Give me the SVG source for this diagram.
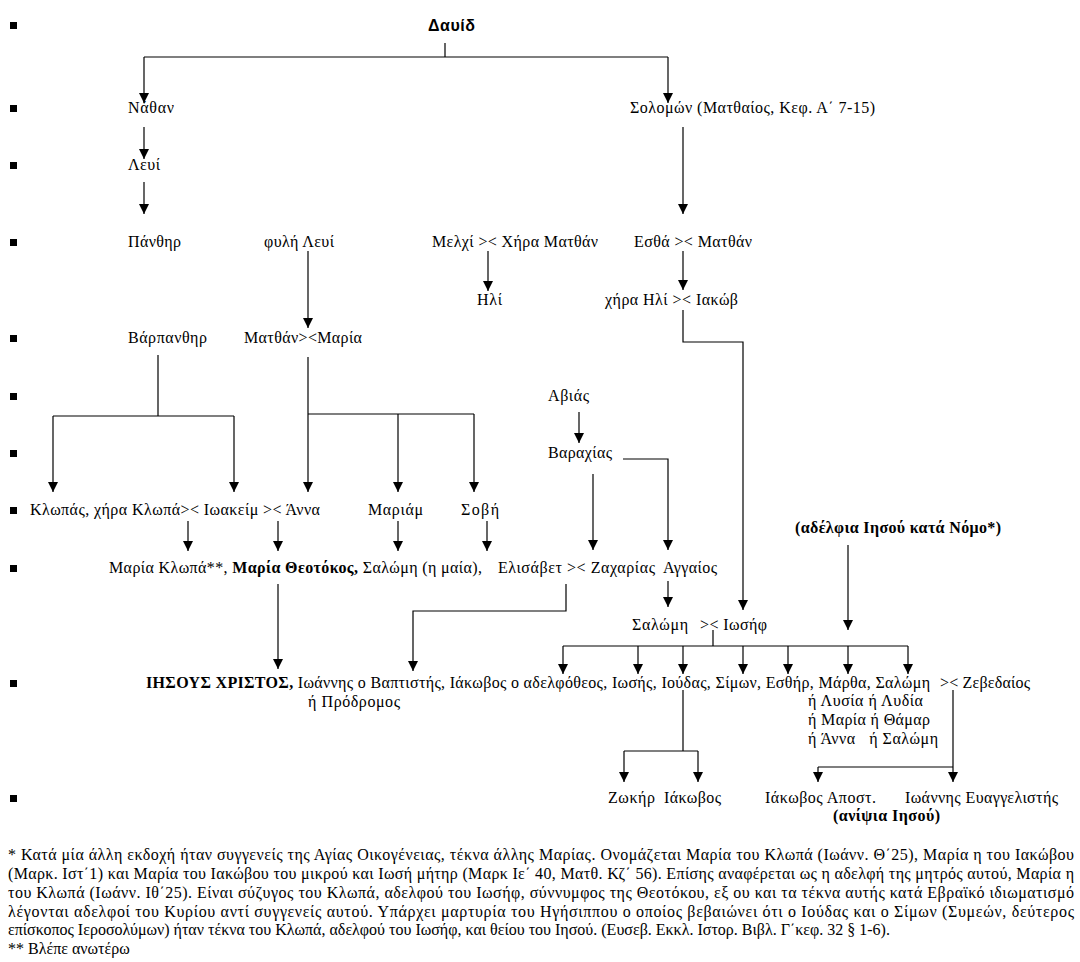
<svg xmlns="http://www.w3.org/2000/svg" width="1080" height="962" viewBox="0 0 1080 962">
<style>
text{font-family:"Liberation Serif","Times New Roman",serif;font-size:16px;fill:#000}
.b{font-weight:bold}
.sans{font-family:"Liberation Sans",Arial,sans-serif;font-weight:bold}
.pre{white-space:pre}
.c path{fill:none;stroke:#000;stroke-width:1.2}
.a{marker-end:url(#ah)}
.bul{fill:#000}
</style>
<defs>
<marker id="ah" markerUnits="userSpaceOnUse" markerWidth="10" markerHeight="11" refX="10" refY="5" orient="auto" viewBox="0 0 10 10">
<path d="M0,0 L10,5 L0,10 z" fill="#000"/>
</marker>
</defs>
<rect width="1080" height="962" fill="#fff"/>
<g id="bullets" class="bul">
<rect x="10" y="22" width="7" height="7"/>
<rect x="10" y="105" width="7" height="7"/>
<rect x="10" y="162" width="7" height="7"/>
<rect x="10" y="239" width="7" height="7"/>
<rect x="10" y="335" width="7" height="7"/>
<rect x="10" y="393" width="7" height="7"/>
<rect x="10" y="450" width="7" height="7"/>
<rect x="10" y="507" width="7" height="7"/>
<rect x="10" y="565" width="7" height="7"/>
<rect x="10" y="680" width="7" height="7"/>
<rect x="10" y="795" width="7" height="7"/>
</g>
<g class="c" id="connectors">
<path d="M445,43 V57 M144,57 H668"/>
<path class="a" d="M144,57 V103"/>
<path class="a" d="M668,57 V103"/>
<path class="a" d="M144,127 V159"/>
<path class="a" d="M144,182 V214"/>
<path class="a" d="M683,127 V214"/>
<path class="a" d="M308,251 V328"/>
<path class="a" d="M488,251 V291"/>
<path class="a" d="M683,251 V290"/>
<path class="a" d="M683,310 V342 H743 V610"/>
<path d="M158,355 V416 M53,416 H234"/>
<path class="a" d="M53,416 V492"/>
<path class="a" d="M234,416 V492"/>
<path class="a" d="M308,357 V492"/>
<path d="M308,414 H474"/>
<path class="a" d="M398,414 V492"/>
<path class="a" d="M474,414 V492"/>
<path class="a" d="M579,412 V443"/>
<path class="a" d="M593,474 V550"/>
<path class="a" d="M623,459 H668 V550"/>
<path class="a" d="M188,521 V551"/>
<path class="a" d="M278,521 V551"/>
<path class="a" d="M398,521 V551"/>
<path class="a" d="M487,521 V551"/>
<path class="a" d="M278,584 V669"/>
<path class="a" d="M566,584 V611 H413 V671"/>
<path class="a" d="M668,581 V607"/>
<path class="a" d="M848,545 V630"/>
<path d="M713,630 V646 M563,646 H908"/>
<path class="a" d="M563,646 V674"/>
<path class="a" d="M638,646 V674"/>
<path class="a" d="M683,646 V674"/>
<path class="a" d="M743,646 V674"/>
<path class="a" d="M788,646 V674"/>
<path class="a" d="M848,646 V674"/>
<path class="a" d="M908,646 V674"/>
<path d="M683,690 V751 M624,751 H698"/>
<path class="a" d="M624,751 V782"/>
<path class="a" d="M698,751 V782"/>
<path class="a" d="M953,690 V782"/>
<path d="M818,767 H953"/>
<path class="a" d="M818,767 V782"/>
</g>
<g id="david"><text class="sans" x="428" y="31" textLength="47">Δαυίδ</text></g>
<g id="nathan"><text x="128" y="113" textLength="46">Νάθαν</text></g>
<g id="solomon"><text x="630" y="113" textLength="245">Σολομών (Ματθαίος, Κεφ. Α΄ 7-15)</text></g>
<g id="levi"><text x="128" y="170" textLength="32">Λευί</text></g>
<g id="panthir"><text x="128" y="247" textLength="53">Πάνθηρ</text></g>
<g id="fyli-levi"><text x="264" y="247" textLength="70">φυλή Λευί</text></g>
<g id="melchi"><text x="432" y="247" textLength="166">Μελχί &gt;&lt; Χήρα Ματθάν</text></g>
<g id="estha"><text x="634" y="247" textLength="118">Εσθά &gt;&lt; Ματθάν</text></g>
<g id="ili"><text x="477" y="305" textLength="25">Ηλί</text></g>
<g id="chira-ili"><text x="605" y="305" textLength="133">χήρα Ηλί &gt;&lt; Ιακώβ</text></g>
<g id="barpanthir"><text x="128" y="343" textLength="79">Βάρπανθηρ</text></g>
<g id="matthan"><text x="244" y="343" textLength="118">Ματθάν&gt;&lt;Μαρία</text></g>
<g id="avias"><text x="548" y="401" textLength="41">Αβιάς</text></g>
<g id="varachias"><text x="548" y="458" textLength="64">Βαραχίας</text></g>
<g id="klopas"><text x="30" y="515" textLength="290">Κλωπάς, χήρα Κλωπά&gt;&lt; Ιωακείμ &gt;&lt; Άννα</text></g>
<g id="mariam"><text x="368" y="515" textLength="55">Μαριάμ</text></g>
<g id="sovi"><text x="461" y="515" textLength="38">Σοβή</text></g>
<g id="adelfia"><text class="b" x="795" y="533" textLength="206">(αδέλφια Ιησού κατά Νόμο*)</text></g>
<g id="maria"><text x="109" y="573" textLength="373">Μαρία Κλωπά**, <tspan class="b">Μαρία Θεοτόκος,</tspan> Σαλώμη (η μαία),</text></g>
<g id="elisavet"><text x="498" y="573" textLength="157">Ελισάβετ &gt;&lt; Ζαχαρίας</text></g>
<g id="aggaios"><text x="663" y="573" textLength="54">Αγγαίος</text></g>
<g id="salomi-iosif"><text x="632" y="630" textLength="56">Σαλώμη</text><text x="700" y="630" textLength="67">&gt;&lt; Ιωσήφ</text></g>
<g id="iisous"><text x="146" y="688" textLength="784"><tspan class="b">ΙΗΣΟΥΣ ΧΡΙΣΤΟΣ,</tspan> Ιωάννης ο Βαπτιστής, Ιάκωβος ο αδελφόθεος, Ιωσής, Ιούδας, Σίμων, Εσθήρ, Μάρθα, Σαλώμη</text><text x="308" y="707" textLength="92">ή Πρόδρομος</text></g>
<g id="zevedaios"><text x="940" y="688" textLength="90">&gt;&lt; Ζεβεδαίος</text></g>
<g id="salomi-alt"><text x="808" y="706" textLength="115">ή Λυσία ή Λυδία</text><text x="808" y="725" textLength="122">ή Μαρία ή Θάμαρ</text><text class="pre" x="808" y="744" textLength="130">ή Άννα   ή Σαλώμη</text></g>
<g id="zokir"><text x="608" y="803" textLength="47">Ζωκήρ</text></g>
<g id="iakovos"><text x="664" y="803" textLength="57">Ιάκωβος</text></g>
<g id="iakovos-apost"><text x="765" y="803" textLength="111">Ιάκωβος Αποστ.</text></g>
<g id="ioannis-ev"><text x="905" y="803" textLength="153">Ιωάννης Ευαγγελιστής</text></g>
<g id="anipsia"><text class="b" x="833" y="821" textLength="107">(ανίψια Ιησού)</text></g>
<g id="footnote">
<text x="8" y="860" textLength="1066" lengthAdjust="spacing">* Κατά μία άλλη εκδοχή ήταν συγγενείς της Αγίας Οικογένειας, τέκνα άλλης Μαρίας. Ονομάζεται Μαρία του Κλωπά (Ιωάνν. Θ΄25), Μαρία η του Ιακώβου</text>
<text x="8" y="879" textLength="1066" lengthAdjust="spacing">(Μαρκ. Ιστ΄1) και Μαρία του Ιακώβου του μικρού και Ιωσή μήτηρ (Μαρκ Ιε΄ 40, Ματθ. Κζ΄ 56). Επίσης αναφέρεται ως η αδελφή της μητρός αυτού, Μαρία η</text>
<text x="8" y="898" textLength="1066" lengthAdjust="spacing">του Κλωπά (Ιωάνν. Ιθ΄25). Είναι σύζυγος του Κλωπά, αδελφού του Ιωσήφ, σύννυμφος της Θεοτόκου, εξ ου και τα τέκνα αυτής κατά Εβραϊκό ιδιωματισμό</text>
<text x="8" y="917" textLength="1066" lengthAdjust="spacing">λέγονται αδελφοί του Κυρίου αντί συγγενείς αυτού. Υπάρχει μαρτυρία του Ηγήσιππου ο οποίος βεβαιώνει ότι ο Ιούδας και ο Σίμων (Συμεών, δεύτερος</text>
<text x="8" y="935">επίσκοπος Ιεροσολύμων) ήταν τέκνα του Κλωπά, αδελφού του Ιωσήφ, και θείου του Ιησού. (Ευσεβ. Εκκλ. Ιστορ. Βιβλ. Γ΄κεφ. 32 § 1-6).</text>
<text x="8" y="954">** Βλέπε ανωτέρω</text>
</g>
</svg>
